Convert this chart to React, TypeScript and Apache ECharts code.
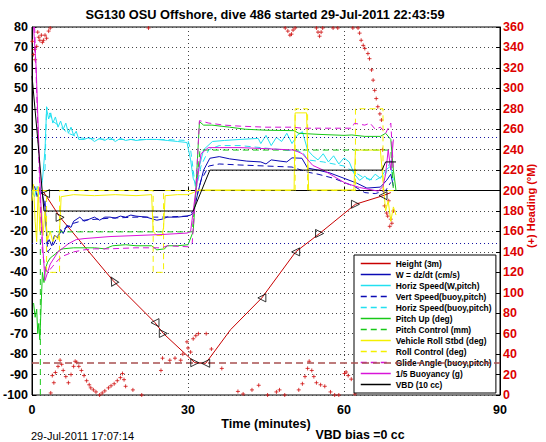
import React, { useEffect, useRef } from "react";
import * as echarts from "echarts";

const FONT = "'Liberation Sans', Arial, Helvetica, sans-serif";

const titleText = "SG130 OSU Offshore, dive 486 started 29-Jul-2011 22:43:59";
const dateText = "29-Jul-2011 17:07:14";
const biasText = "VBD bias =0 cc";
const xName = "Time (minutes)";
const rightName = "(+) Heading (°M)";

const xTicks = { min: 0, max: 90, interval: 30 };
const yLeft = { min: -100, max: 80, interval: 10 };
const yRight = { min: 0, max: 360, interval: 20 };

const maxDepthLine = -84;
const speedGuides = [26, -26];

const heightData = [
  [2.2, -0.6], [5.4, -13.1], [15.6, -44.1], [23.65, -64.6], [25.25, -69.9], [31.3, -84.2],
  [33.4, -84.5], [38.2, -68], [44.2, -52.5], [50.7, -30], [55.3, -21], [62.2, -6.7],
  [67.5, -2.5], [69, -1],
];
const heightMarkers = [
  [2.6, -1.5], [5.4, -13.1], [15.6, -44.1], [23.65, -64.6], [25.25, -69.9], [31.3, -84.2],
  [33.4, -84.5], [44.2, -52.5], [50.7, -30], [55.3, -21], [62.2, -6.7], [67.5, -2.5],
];
const heightMarkerRotate = [90, -90, 30, 90, -90, -90, 90, 90, 90, -90, -90, 90];

const wData = [
  [0, 0], [0.5, 2], [1, -3], [1.5, 1], [2, -2], [2.5, -8], [2.9, -26], [3.3, -24], [3.8, -27],
  [4.3, -22], [5, -23], [5.5, -19], [6, -21], [6.7, -17], [7.5, -18], [8, -15], [9.2, -13],
  [10, -15], [11, -14], [12, -13], [13, -14.5], [14, -13], [15, -13], [16, -13.5], [17, -12.5],
  [18, -13], [19, -12], [20, -12.5], [22, -13], [23.3, -14], [24, -14.5], [25, -14], [26, -13],
  [28, -13], [29.8, -12.5], [30.5, -12], [31, -11], [32, 0], [33, 10], [34.2, 15.8], [36, 16.6],
  [38, 15.5], [41.3, 14.4], [44, 14], [45, 13], [46, 15], [47.7, 14.4], [49, 14], [50, 16],
  [51.9, 15.8], [53, 11], [55, 10], [57.3, 8.6], [60, 6], [62.4, 3.7], [64.4, 1.2], [67, 1.7],
  [68.2, 5], [69, 8], [69.5, 2],
];
const horizWData = [
  [0, 0], [0.5, -3], [1, 2], [1.5, -2], [2, 5], [2.5, 20], [2.8, 40], [3.2, 35], [3.6, 38],
  [4, 33], [4.5, 36], [5, 31], [5.5, 34], [6, 30], [6.5, 33], [7, 28], [7.5, 31], [8, 27],
  [8.5, 29], [9, 25], [10, 25], [11, 26], [12, 24], [13, 25.5], [14, 24.5], [15, 26], [16, 24],
  [17, 25.5], [18, 24.5], [19, 25], [20, 24.5], [22, 25], [24, 25], [26, 24.5], [28, 24],
  [29.8, 23.5], [30.5, 15], [31, 6], [31.5, 3], [32, 10], [33, 20], [34.7, 24], [37, 24.5],
  [40, 25], [43.5, 25.5], [44, 23], [45, 27], [46, 22], [47, 26], [48, 24], [49, 28], [50, 23],
  [51, 27], [52, 28.8], [53, 19.8], [54, 17], [55, 15], [56, 18], [57, 14], [58, 17], [59, 13],
  [60, 16], [61, 14], [62, 8], [63, 5], [64, 7], [65, 5], [66, 8], [67, 6], [68, 10], [69, 12],
  [69.5, 5],
];
const vertBuoyData = [
  [2.5, -5], [3, -30], [4, -27], [5, -22], [6, -19], [8, -16], [10, -14.5], [15, -13.5],
  [20, -13], [25, -13], [30, -12.5], [31, -10], [32.5, 5], [34, 12], [36, 13], [40, 12.5],
  [45, 12], [50, 11.5], [53, 9], [55, 8], [58, 6], [62, 2], [64, -1], [66, -1.5], [68, 0],
  [69, 4],
];
const horizBuoyData = [
  [2.5, 10], [2.8, 41], [3.3, 38], [4, 34], [5, 32], [6, 30], [7, 28], [8, 27], [9, 26],
  [10, 25.5], [15, 25], [20, 25], [25, 25], [30, 24.5], [30.5, 20], [31.5, 0], [32.5, 12],
  [34, 20], [36, 22], [40, 22], [44, 21], [48, 20], [52, 19], [53, 15], [56, 14], [60, 12],
  [62, 9], [64, 6], [66, 5], [68, 8], [69, 15],
];
const pitchUpData = [
  [0.3, -55], [0.6, -62], [0.9, -58], [1.1, -70], [1.3, -65], [1.5, -73], [1.7, -60], [2, -40],
  [2.3, -45], [2.6, -38], [3, -35], [3.5, -33], [4, -32], [5, -30], [5.3, -29], [6, -28.5],
  [8, -28], [10, -28], [12, -28], [14, -28.5], [15.5, -27], [18, -26.5], [20, -27], [23, -27],
  [24, -29], [25.5, -28.5], [26, -27], [28, -27], [30, -26.5], [31, -20], [31.5, 0],
  [32.2, 33.7], [33, 32], [34.6, 32], [38, 31], [41, 30], [45, 29.5], [50.4, 29.3], [51.3, 28],
  [55, 27.5], [60, 27], [61.5, 27.2], [64, 26.5], [67, 26.5], [68, 28], [69, 25], [69.5, 10],
  [70, 0],
];
const pitchCtlData = [
  [1.6, -100], [1.6, -20.2], [30.8, -20.2], [32.3, 19.8], [69, 19.8], [69.5, 0],
];
const rollData = [
  [0, -5], [0.3, 3], [0.6, -15], [0.9, -25], [1.2, 2], [1.5, -20], [1.8, -8], [2.1, -22],
  [2.5, -10], [3, -24], [3.5, -20], [4, -25], [4.5, -22], [5, -24], [5.3, -20], [5.6, -3],
  [8, -2], [12, -2.5], [16, -2], [20, -2.5], [23, -2], [23.3, -20], [24, -22], [25, -22],
  [25.3, -18], [25.6, -2.5], [28, -2], [30, -2], [31, -1], [32, 0.3], [40, 0.3], [45, 0.3],
  [50.4, 0.3], [50.6, 38], [52.8, 38], [53.2, 0.3], [58, 0.3], [61.9, 0.3], [62.2, 19.8],
  [67, 19.8], [67.5, 5], [68, -10], [68.5, -5], [69, -15], [69.5, -8], [70, -12],
];
const rollCtlData = [
  [0, 0], [2.8, 0], [2.8, -40], [5.3, -40], [5.3, 0], [23.3, 0], [23.3, -40], [25.3, -40],
  [25.3, 0], [50.6, 0], [50.6, 40], [53, 40], [53, 0], [62.2, 0], [62.2, 40], [67.5, 40],
  [67.5, 0], [70, 0],
];
const glideData = [
  [0.5, 80], [1, 40], [1.5, 0], [2, -30], [2.5, -38], [3, -40], [4, -37], [5, -34], [6, -32],
  [8, -30], [10, -29], [12, -28.5], [15, -28.5], [20, -28], [25, -28], [26, -27], [30, -27.5],
  [30.8, -26], [31.5, 0], [32.2, 34.2], [34, 33], [37, 32], [40, 31.5], [45, 31], [50, 31],
  [52, 30.5], [55, 30.5], [58, 30.5], [61.5, 30.5], [62, 32.9], [64, 32], [65, 33], [66, 30],
  [67, 31], [68, 28], [69, 33], [69.5, 10],
];
const buoyData = [
  [0.3, 80], [0.8, 60], [1.2, 30], [1.6, 0], [2, -25], [2.5, -44], [3, -40], [3.5, -36],
  [4, -34], [5, -30], [6, -28], [7, -26], [8.5, -24], [10, -23.5], [15, -22.5], [20, -22],
  [25, -21.5], [29.8, -20.8], [30.5, -20], [31.5, 0], [32.5, 18], [33.9, 21], [40, 21],
  [45, 20.5], [50.4, 19.8], [52, 18], [54, 12.3], [56, 10], [58, 7], [60.2, 3.7], [63, 1.5],
  [66.6, -0.3], [67.5, 2], [68, 8], [68.5, 20], [69, 10], [69.5, 25],
];
const vbdData = [
  [0, 56], [1.1, 25], [2.3, -10], [31, -10], [34.2, 10], [67.3, 10], [68, 14], [70, 14],
];
const headingData = [
  [0.06, 346], [0.3, 333], [0.5, 338], [0.6, 328], [0.9, 341], [1.1, 355], [1.3, 350],
  [1.5, 347], [1.8, 352], [2, 345], [2.2, 347], [2.5, 352], [2.8, 349], [3.2, 356], [3.5, 359],
  [22.4, 359],
  [3.6, 2], [3.9, 19], [4.2, 12], [4.5, 22], [5, 28], [5.4, 34], [5.7, 30], [6, 24], [6.5, 18],
  [7, 12], [7.5, 20], [8, 28], [8.3, 33], [8.6, 32], [9, 28], [9.5, 24], [10, 19], [10.5, 14],
  [11, 10], [11.3, 7], [11.8, 5], [12.3, 3], [13, 0], [13.5, 2], [14, 4], [14.7, 7], [15.2, 9],
  [15.8, 11], [16.4, 14], [17, 17], [17.4, 21], [17.7, 15], [18, 8.5], [19.4, 5], [21.1, 0],
  [24.8, 24], [25.1, 36], [26.5, 34], [27.5, 36], [28.6, 34], [29, 40], [29.8, 52], [30, 46],
  [30.5, 42], [31, 55], [31.5, 58], [32, 60], [33.5, 60], [34.5, 45], [36.5, 26], [39.6, 3.5],
  [40.6, 1], [42.3, 5], [43.6, 9.5], [45.3, 0], [47, 3], [47.6, 5], [48.6, 0],
  [51.3, 5], [52, 11], [52.5, 18], [53, 26], [53.3, 33], [53.8, 24], [54.2, 18], [54.7, 12],
  [55.5, 10], [56.3, 8.5], [57.4, 3], [58.2, 0], [59, 0], [60.1, 21], [60.4, 22.5], [60.8, 19],
  [61.4, 15.5], [62.1, 1],
  [48.7, 359], [49.2, 356], [49.6, 352], [49.9, 353], [50.2, 357], [50.6, 359], [54.7, 359],
  [55, 355], [55.3, 351], [55.6, 355], [55.9, 359], [57.9, 359], [58.8, 359], [61.7, 359],
  [62.7, 359], [63, 354], [63.3, 347], [63.7, 342], [64, 339], [64.6, 334], [64.9, 329],
  [65.3, 318], [65.6, 308], [65.9, 298], [66.2, 290], [66.5, 282], [66.9, 275], [67.2, 269],
  [67.4, 240], [67.6, 200], [67.8, 185], [68.2, 178], [68.4, 175], [68.6, 190], [68.8, 165],
  [69, 172], [69.2, 168], [69.5, 180],
];

const NAVY = "#0a0ab4";
const CYAN = "#22e0f0";
const GREEN = "#18c818";
const YELLOW = "#f4f000";
const MAGENTA = "#d814d8";
const RED = "#d01010";

function lineSeries(name: string, data: number[][], color: string, dashed: boolean, extra: any = {}) {
  return {
    name,
    type: "line",
    data,
    symbol: "none",
    silent: true,
    clip: true,
    lineStyle: { color, width: 1, type: dashed ? [6, 4] : "solid" },
    itemStyle: { color },
    ...extra,
  };
}

export default function App() {
  const ref = useRef<HTMLDivElement>(null);
  useEffect(() => {
    if (!ref.current) return;
    const chart = echarts.init(ref.current, null, { renderer: "svg" });
    const axisLabelStyle = { fontFamily: FONT, fontWeight: "bold", fontSize: 12.5, color: "#000" };
    const legendNames = [
      "Height (3m)", "W = dz/dt (cm/s)", "Horiz Speed(W,pitch)", "Vert Speed(buoy,pitch)",
      "Horiz Speed(buoy,pitch)", "Pitch Up (deg)", "Pitch Control (mm)", "Vehicle Roll Stbd (deg)",
      "Roll Control (deg)", "Glide Angle (buoy,pitch)", "1/5 Buoyancy (g)", "VBD (10 cc)",
    ];
    const option: any = {
      animation: false,
      backgroundColor: "#fff",
      textStyle: { fontFamily: FONT },
      grid: { left: 32, right: 46, top: 27, bottom: 47, show: true, borderColor: "#000", borderWidth: 1, backgroundColor: "transparent" },
      xAxis: {
        type: "value", min: xTicks.min, max: xTicks.max, interval: xTicks.interval,
        axisLine: { lineStyle: { color: "#000" } },
        axisTick: { inside: true, length: 4, lineStyle: { color: "#000" } },
        axisLabel: { ...axisLabelStyle, margin: 8 },
        splitLine: { show: true, lineStyle: { color: "#444", type: [1, 3] } },
      },
      yAxis: [
        {
          type: "value", min: yLeft.min, max: yLeft.max, interval: yLeft.interval,
          axisLine: { show: true, lineStyle: { color: "#000" } },
          axisTick: { show: true, inside: true, length: 4, lineStyle: { color: "#000" } },
          axisLabel: { ...axisLabelStyle, margin: 4 },
          splitLine: { show: true, lineStyle: { color: "#444", type: [1, 3] } },
        },
        {
          type: "value", min: yRight.min, max: yRight.max, interval: yRight.interval, position: "right",
          axisLine: { show: true, lineStyle: { color: "#000" } },
          axisTick: { show: true, inside: true, length: 4, lineStyle: { color: "#000" } },
          axisLabel: { ...axisLabelStyle, color: "#dd0000", margin: 3 },
          splitLine: { show: false },
        },
      ],
      legend: {
        data: legendNames,
        orient: "vertical",
        left: 354,
        top: 255,
        padding: [3, 4, 3, 6],
        itemWidth: 30,
        itemHeight: 11,
        itemGap: 0,
        borderColor: "#000",
        borderWidth: 1,
        backgroundColor: "#fff",
        selectedMode: false,
        itemStyle: { opacity: 0 },
        lineStyle: { width: 1.5 },
        textStyle: { fontFamily: FONT, fontWeight: "bold", fontSize: 8.4, lineHeight: 11, color: "#000" },
      },
      graphic: [
        { type: "text", x: 265, y: 14, style: { text: titleText, font: `bold 12.8px ${FONT}`, fill: "#000", textAlign: "center", textVerticalAlign: "middle" } },
        { type: "text", x: 266, y: 424, style: { text: xName, font: `bold 12.6px ${FONT}`, fill: "#000", textAlign: "center", textVerticalAlign: "middle" } },
        { type: "text", x: 31, y: 436, style: { text: dateText, font: `11px ${FONT}`, fill: "#000", textAlign: "left", textVerticalAlign: "middle" } },
        { type: "text", x: 360, y: 435, style: { text: biasText, font: `bold 12.4px ${FONT}`, fill: "#000", textAlign: "center", textVerticalAlign: "middle" } },
        { type: "text", x: 531, y: 206, rotation: Math.PI / 2, style: { text: rightName, font: `bold 11px ${FONT}`, fill: "#dd0000", textAlign: "center", textVerticalAlign: "middle" } },
      ],
      series: [
        {
          name: "Heading", type: "scatter", yAxisIndex: 1, data: headingData, silent: true,
          symbol: "path://M2,0L2,4M0,2L4,2", symbolSize: 4,
          itemStyle: { color: "none", borderColor: RED, borderWidth: 1 },
          z: 1,
        },
        lineSeries("Height (3m)", heightData, "#c80000", false, {
          markLine: {
            silent: true, symbol: ["none", "none"], label: { show: false },
            lineStyle: { color: "#a85050", type: [7, 4], width: 1.5 },
            data: [{ yAxis: maxDepthLine }],
          },
        }),
        lineSeries("W = dz/dt (cm/s)", wData, NAVY, false, {
          markLine: {
            silent: true, symbol: ["none", "none"], label: { show: false },
            lineStyle: { color: "#1010a0", type: [1, 3], width: 1 },
            data: speedGuides.map((v) => ({ yAxis: v })),
          },
        }),
        lineSeries("Horiz Speed(W,pitch)", horizWData, CYAN, false),
        lineSeries("Vert Speed(buoy,pitch)", vertBuoyData, NAVY, true),
        lineSeries("Horiz Speed(buoy,pitch)", horizBuoyData, CYAN, true),
        lineSeries("Pitch Up (deg)", pitchUpData, GREEN, false),
        lineSeries("Pitch Control (mm)", pitchCtlData, GREEN, true),
        lineSeries("Vehicle Roll Stbd (deg)", rollData, YELLOW, false),
        lineSeries("Roll Control (deg)", rollCtlData, YELLOW, true),
        lineSeries("Glide Angle (buoy,pitch)", glideData, MAGENTA, true),
        lineSeries("1/5 Buoyancy (g)", buoyData, MAGENTA, false),
        lineSeries("VBD (10 cc)", vbdData, "#000", false),
        {
          name: "HeightMarkers", type: "scatter", data: heightMarkers.map((p, i) => ({ value: p, symbolRotate: heightMarkerRotate[i] })),
          symbol: "triangle", symbolSize: 8, silent: true,
          itemStyle: { color: "rgba(255,255,255,0)", borderColor: "#000", borderWidth: 1 },
          z: 5,
        },
      ],
    };
    chart.setOption(option);
    return () => chart.dispose();
  }, []);
  return <div ref={ref} style={{ position: "absolute", left: 0, top: 0, width: 546, height: 442, background: "#fff" }} />;
}
